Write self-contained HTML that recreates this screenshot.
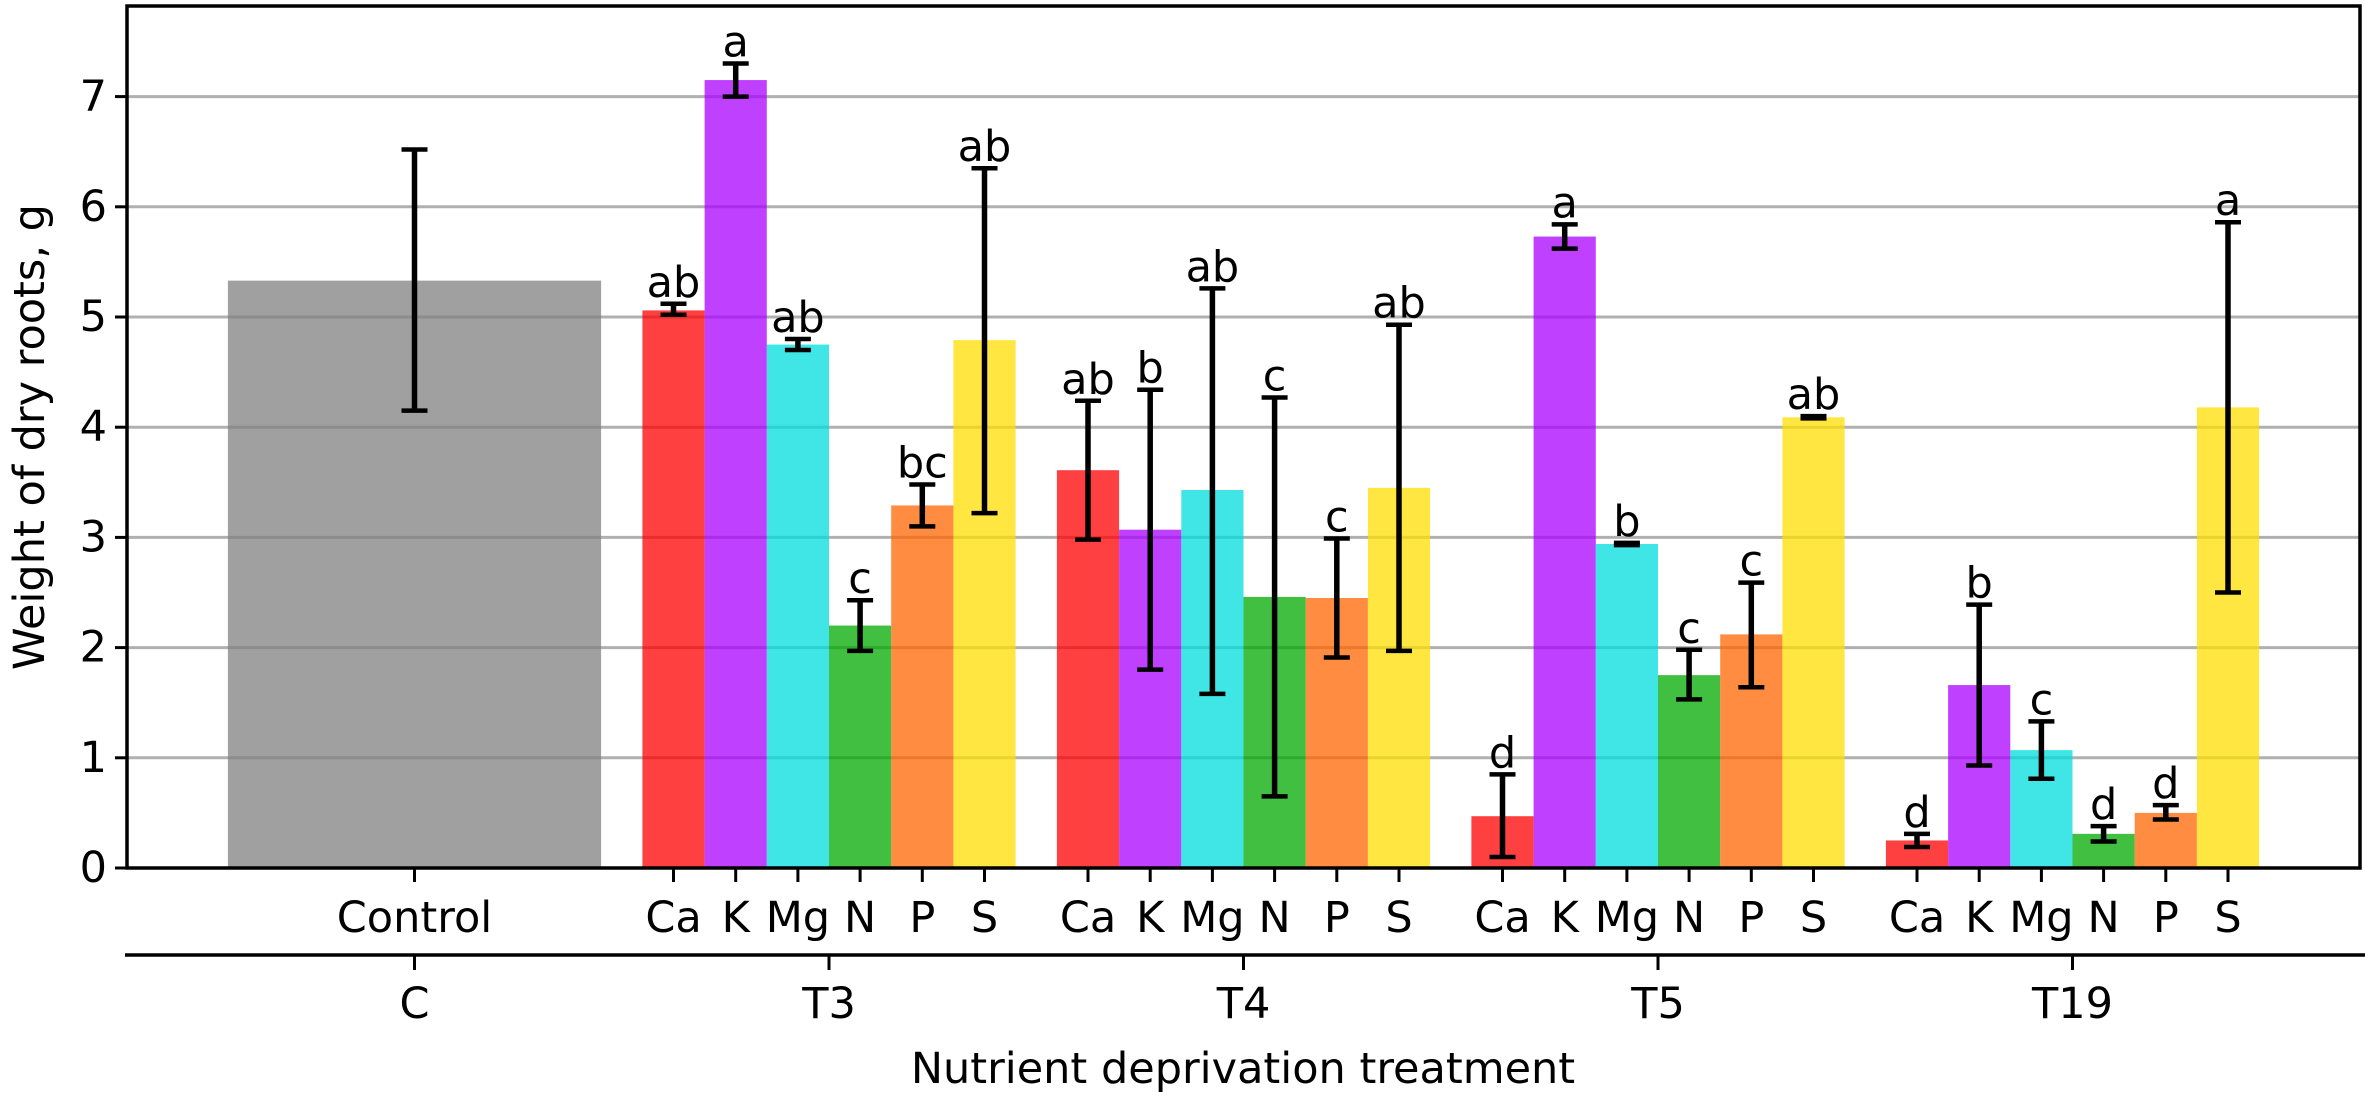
<!DOCTYPE html>
<html><head><meta charset="utf-8"><style>
html,body{margin:0;padding:0;background:#fff;}
svg{display:block;font-family:"DejaVu Sans","Liberation Sans",sans-serif;}
</style></head><body>
<svg id="chart" width="2365" height="1096" viewBox="0 0 2365 1096" xmlns="http://www.w3.org/2000/svg">
<g id="grid"></g>
<g id="bars"></g>
<g id="errs"></g>
<g id="axes"></g>
<text transform="translate(30,437) rotate(-90)" text-anchor="middle" dominant-baseline="central" font-size="43">Weight of dry roots, g</text>
<text x="1243" y="1083" text-anchor="middle" font-size="43">Nutrient deprivation treatment</text>
</svg>
<script>
const groups = ["T3","T4","T5","T19"];
const nutrients = ["Ca","K","Mg","N","P","S"];
const controlValue = 5.33;
const controlErr = [4.15, 6.52];
const means = [
  [5.06, 7.15, 4.75, 2.20, 3.29, 4.79],
  [3.61, 3.07, 3.43, 2.46, 2.45, 3.45],
  [0.47, 5.73, 2.94, 1.75, 2.12, 4.09],
  [0.25, 1.66, 1.07, 0.31, 0.50, 4.18]
];
const errLow = [
  [5.02, 7.00, 4.70, 1.97, 3.10, 3.22],
  [2.98, 1.80, 1.58, 0.65, 1.91, 1.97],
  [0.10, 5.62, 2.93, 1.53, 1.64, 4.08],
  [0.19, 0.93, 0.81, 0.24, 0.44, 2.50]
];
const errHigh = [
  [5.12, 7.30, 4.80, 2.43, 3.48, 6.35],
  [4.24, 4.34, 5.26, 4.27, 2.99, 4.93],
  [0.85, 5.84, 2.95, 1.98, 2.59, 4.10],
  [0.31, 2.39, 1.33, 0.38, 0.57, 5.86]
];
const letters = [
  ["ab","a","ab","c","bc","ab"],
  ["ab","b","ab","c","c","ab"],
  ["d","a","b","c","c","ab"],
  ["d","b","c","d","d","a"]
];
const yTicks = [0,1,2,3,4,5,6,7];

const NS="http://www.w3.org/2000/svg";
const FS=43;
const colors=["#ff0000","#aa00ff","#00dede","#00aa00","#ff6600","#ffde00"];
const L=127,R=2360,T=6,B=868;
const unit=414.5, bw=62.2;
function y(v){return B-v*110.2;}
function xc(pos){return unit*pos;}
function mk(tag,attrs,parent){const e=document.createElementNS(NS,tag);for(const k in attrs)e.setAttribute(k,attrs[k]);parent.appendChild(e);return e;}
const grid=document.getElementById('grid'),bars=document.getElementById('bars'),errs=document.getElementById('errs'),axes=document.getElementById('axes');

yTicks.forEach(t=>{
  if(t>0){const g=mk('line',{x1:L,x2:R,y1:y(t),y2:y(t),stroke:'#b0b0b0','stroke-width':3},grid);
  
  }
  const tk=mk('line',{x1:L-12,x2:L,y1:y(t),y2:y(t),stroke:'#000','stroke-width':3},axes);
  
  
  const lb=mk('text',{x:L-20,y:y(t),'text-anchor':'end','dominant-baseline':'central','font-size':FS},axes);
  lb.textContent=t;
  
  
});

function errBar(cx,lo,hi,name){
  const g=mk('g',{stroke:'#000','stroke-width':5.5},errs);
  
  
  mk('line',{x1:cx,x2:cx,y1:y(lo),y2:y(hi)},g);
  mk('line',{x1:cx-13,x2:cx+13,y1:y(lo),y2:y(lo),'stroke-width':4.5},g);
  mk('line',{x1:cx-13,x2:cx+13,y1:y(hi),y2:y(hi),'stroke-width':4.5},g);
}
function xTick(cx,label,name){
  const t=mk('line',{x1:cx,x2:cx,y1:B,y2:B+14,stroke:'#000','stroke-width':3},axes);
  
  
  const l=mk('text',{x:cx,y:918,'text-anchor':'middle','dominant-baseline':'central','font-size':FS},axes);
  l.textContent=label;
  
  
}

const cc=xc(1);
const cb=mk('rect',{x:cc-3*bw,y:y(controlValue),width:6*bw,height:B-y(controlValue),fill:'#808080','fill-opacity':0.75},bars);


errBar(cc,controlErr[0],controlErr[1],'error-control');
xTick(cc,'Control','control');

groups.forEach((g,gi)=>{
  const gc=xc(gi+2);
  nutrients.forEach((n,ni)=>{
    const cx=gc+(ni-2.5)*bw;
    const v=means[gi][ni];
    const r=mk('rect',{x:cx-bw/2,y:y(v),width:bw,height:B-y(v),fill:colors[ni],'fill-opacity':0.75},bars);
    
    
    errBar(cx,errLow[gi][ni],errHigh[gi][ni],'error-'+g.toLowerCase()+'-'+n.toLowerCase());
    const lt=mk('text',{x:cx,y:y(errHigh[gi][ni])-7,'text-anchor':'middle','font-size':FS},errs);
    lt.textContent=letters[gi][ni];
    
    
    xTick(cx,n,'x-'+g.toLowerCase()+'-'+n.toLowerCase());
  });
});

const fr=mk('rect',{x:L,y:T,width:R-L,height:B-T,fill:'none',stroke:'#000','stroke-width':3.5},axes);


const sl=mk('line',{x1:125,x2:2365,y1:955,y2:955,stroke:'#000','stroke-width':3.5},axes);


["C"].concat(groups).forEach((g,i)=>{
  const cx=xc(i+1);
  const t=mk('line',{x1:cx,x2:cx,y1:955,y2:970,stroke:'#000','stroke-width':3},axes);
  
  
  const l=mk('text',{x:cx,y:1004,'text-anchor':'middle','dominant-baseline':'central','font-size':FS},axes);
  l.textContent=g;
  
  
});
</script>
</body></html>
